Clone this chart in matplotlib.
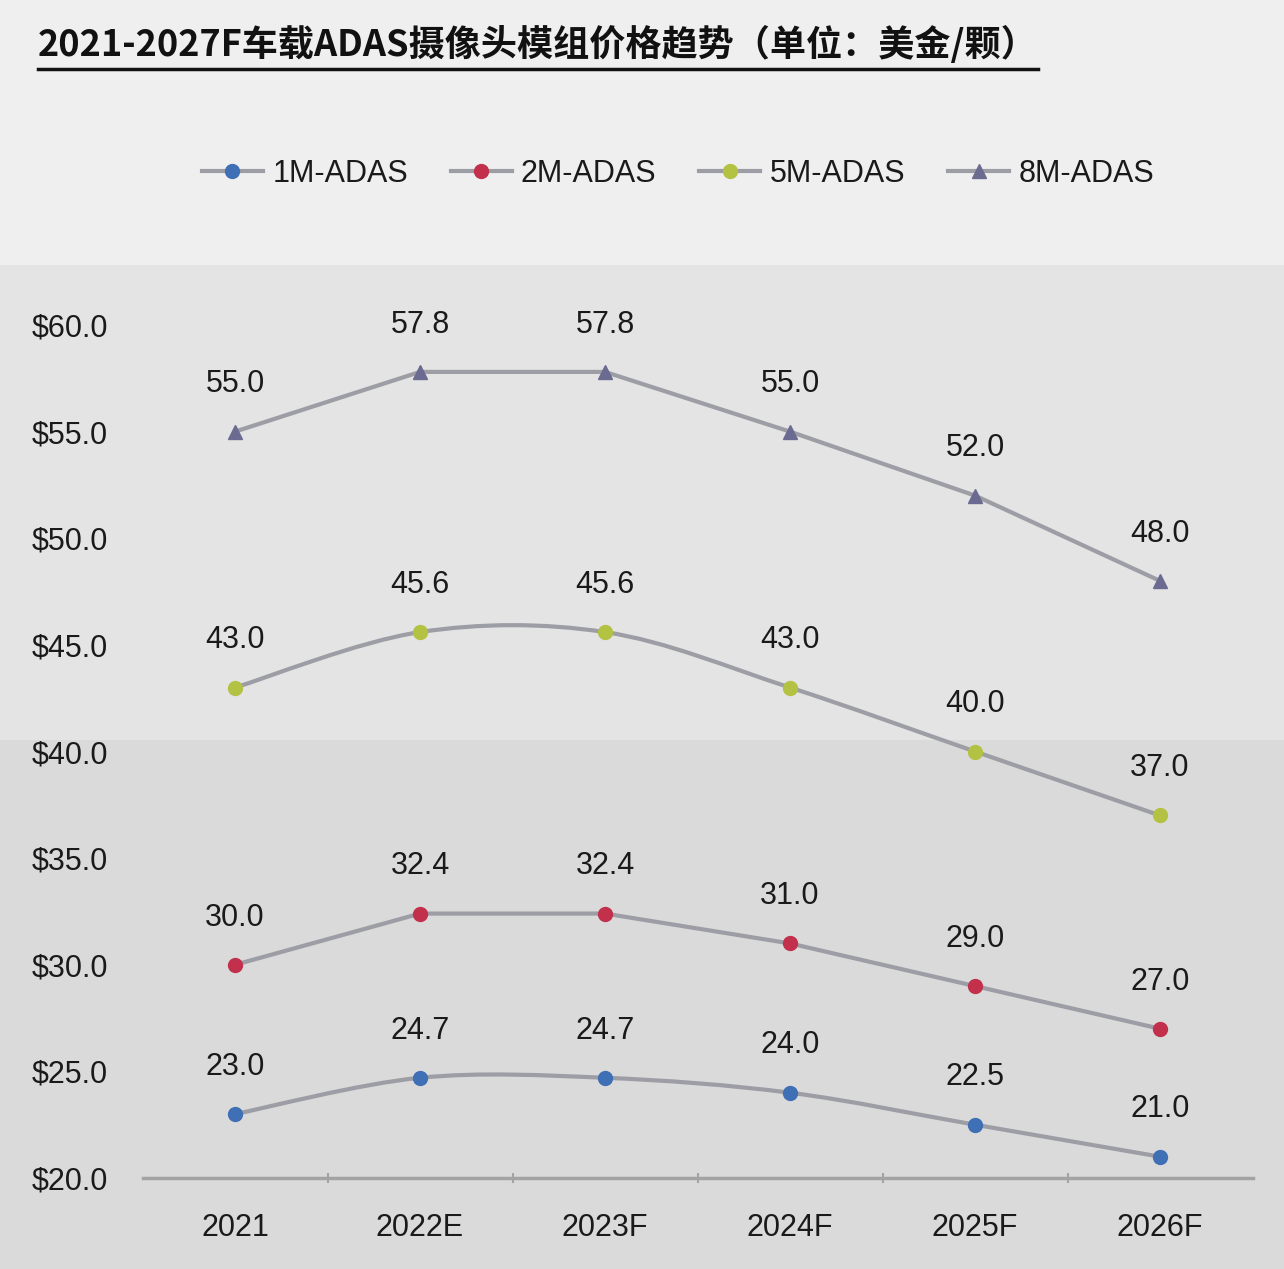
import matplotlib
matplotlib.use('Agg')
import matplotlib.pyplot as plt
from matplotlib.path import Path
from matplotlib.patches import PathPatch, Rectangle
from matplotlib.lines import Line2D
from matplotlib.ticker import FuncFormatter

years = ['2021', '2022E', '2023F', '2024F', '2025F', '2026F']
series_names = ['1M-ADAS', '2M-ADAS', '5M-ADAS', '8M-ADAS']
adas_1m = [23.0, 24.7, 24.7, 24.0, 22.5, 21.0]
adas_2m = [30.0, 32.4, 32.4, 31.0, 29.0, 27.0]
adas_5m = [43.0, 45.6, 45.6, 43.0, 40.0, 37.0]
adas_8m = [55.0, 57.8, 57.8, 55.0, 52.0, 48.0]
title = '2021-2027F车载ADAS摄像头模组价格趋势（单位：美金/颗）'

marker_colors = ['#3f6fb5', '#c2304c', '#b4c244', '#6b6b92']
markers = ['o', 'o', 'o', '^']
smooth = [True, False, True, False]
line_color = '#9d9da5'

plt.rcParams['font.family'] = ['Liberation Sans', 'DejaVu Sans']

fig = plt.figure(figsize=(12.84, 12.69), dpi=100)
fig.patch.set_facecolor('#efefef')
# background bands
fig.patches.append(Rectangle((0, 0), 1, 1 - 740 / 1269, transform=fig.transFigure,
                             facecolor='#dadada', edgecolor='none', zorder=-10))
fig.patches.append(Rectangle((0, 1 - 740 / 1269), 1, (740 - 265) / 1269, transform=fig.transFigure,
                             facecolor='#e4e4e4', edgecolor='none', zorder=-10))

ax = fig.add_axes([0.111, 0.0717, 0.8645, 0.6722])
ax.set_facecolor('none')
ax.set_xlim(-0.5, 5.5)
ax.set_ylim(20, 60)

x = list(range(len(years)))
all_series = [adas_1m, adas_2m, adas_5m, adas_8m]


def smooth_path(xs, ys):
    # cubic bezier through points (catmull-rom style control points)
    verts = [(xs[0], ys[0])]
    codes = [Path.MOVETO]
    n = len(xs)
    for i in range(n - 1):
        x0, y0 = (xs[i - 1], ys[i - 1]) if i > 0 else (xs[i], ys[i])
        x3, y3 = (xs[i + 2], ys[i + 2]) if i + 2 < n else (xs[i + 1], ys[i + 1])
        c1 = (xs[i] + (xs[i + 1] - x0) / 6, ys[i] + (ys[i + 1] - y0) / 6)
        c2 = (xs[i + 1] - (x3 - xs[i]) / 6, ys[i + 1] - (y3 - ys[i]) / 6)
        verts += [c1, c2, (xs[i + 1], ys[i + 1])]
        codes += [Path.CURVE4] * 3
    return Path(verts, codes)


for vals, name, mc, mk, sm in zip(all_series, series_names, marker_colors, markers, smooth):
    if sm:
        ax.add_patch(PathPatch(smooth_path(x, vals), facecolor='none', edgecolor=line_color,
                               lw=3, zorder=2, capstyle='round'))
    else:
        ax.plot(x, vals, color=line_color, lw=3, zorder=2, solid_capstyle='round')
    ax.plot(x, vals, linestyle='none', marker=mk, markersize=10, color=mc, zorder=3)
    for xi, v in zip(x, vals):
        ax.annotate(f'{v:.1f}', (xi, v), xytext=(0, 34), textcoords='offset points',
                    ha='center', va='center', fontsize=22, color='#1a1a1a')

for s in ['top', 'right', 'left']:
    ax.spines[s].set_visible(False)
ax.spines['bottom'].set_color('#a3a3a3')
ax.spines['bottom'].set_linewidth(2.5)
ax.spines['bottom'].set_zorder(1)

ax.set_xticks(x)
ax.set_xticklabels(years)
ax.tick_params(axis='x', which='major', length=0, pad=25, labelsize=22, labelcolor='#1a1a1a')
ax.set_xticks([i + 0.5 for i in x[:-1]], minor=True)
ax.tick_params(axis='x', which='minor', length=7, width=1.5, direction='inout', color='#a3a3a3')
ax.set_yticks([20, 25, 30, 35, 40, 45, 50, 55, 60])
ax.yaxis.set_major_formatter(FuncFormatter(lambda v, p: f'${v:.1f}'))
ax.tick_params(axis='y', length=0, pad=25, labelsize=22, labelcolor='#1a1a1a')

handles = [Line2D([], [], color=line_color, lw=3, marker=mk, markersize=10,
                  markerfacecolor=mc, markeredgecolor=mc)
           for mk, mc in zip(markers, marker_colors)]
fig.legend(handles, series_names, loc='center', bbox_to_anchor=(0.528, 1 - 174 / 1269),
           ncol=4, frameon=False, fontsize=22, handlelength=2.0, handletextpad=0.3,
           columnspacing=1.4, labelcolor='#1a1a1a')

t = fig.text(38 / 1284, 1 - 45 / 1269, title, ha='left', va='center', fontsize=26,
             fontweight='bold', color='#111111',
             family=['Noto Sans CJK SC', 'DejaVu Sans'])
fig.canvas.draw()
bb = t.get_window_extent().transformed(fig.transFigure.inverted())
fig.add_artist(Line2D([bb.x0, bb.x1], [1 - 69 / 1269] * 2, transform=fig.transFigure,
                      color='#111111', lw=2.5))

fig.savefig('out.png', dpi=100, facecolor=fig.get_facecolor())
